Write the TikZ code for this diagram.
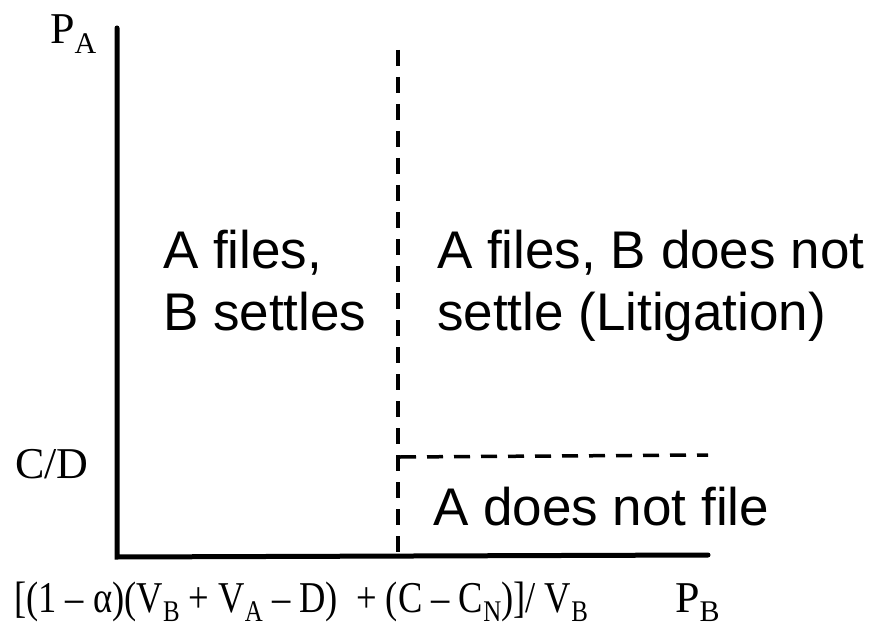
\documentclass[tikz,border=0pt]{standalone}
\usepackage{fontspec}
\setmainfont{Liberation Serif}
\newfontfamily\regionfont{Liberation Sans}
\newcommand{\sbs}[1]{\raisebox{-0.22em}{\fontsize{30}{30}\selectfont #1}}
\begin{document}
\begin{tikzpicture}[x=1pt,y=-1pt,
  axis/.style={line width=5pt,line cap=round},
  dashline/.style={line width=3.5pt,dash pattern=on 16pt off 11pt},
  region/.style={anchor=base west,inner sep=0pt,font=\regionfont\fontsize{53}{62}\selectfont,align=left},
  lbl/.style={anchor=base west,inner sep=0pt,font=\fontsize{44}{50}\selectfont}]
\useasboundingbox (0,0) rectangle (870,631);
\coordinate (top) at (117,28);
\coordinate (origin) at (117,557);
\coordinate (xend) at (708,555);
\coordinate (dtop) at (398,50);
\coordinate (dbot) at (398,557);
\coordinate (hstart) at (400,457);
\coordinate (hend) at (708,455);
\draw[axis] (top) -- (origin) -- (xend);
\draw[dashline] (dtop) -- (dbot);
\draw[dashline] (hstart) -- (hend);
\node[lbl] (pa) at (50,44) {P\sbs{A}};
\node[lbl] (cd) at (15,478) {C/D};
\node[lbl] (pb) at (675,612) {P\sbs{B}};
\node[lbl,xscale=0.83] (thr) at (14,612) {[(1 – α)(V\sbs{B} + V\sbs{A} – D)\ \ + (C – C\sbs{N})]/ V\sbs{B}};
\node[region] (r1) at (163,268) {A files,};
\node[region] (r2) at (163,330) {B settles};
\node[region] (r3) at (437,268) {A files, B does not};
\node[region] (r4) at (437,330) {settle (Litigation)};
\node[region] (r5) at (433,525) {A does not file};
\end{tikzpicture}
\end{document}
